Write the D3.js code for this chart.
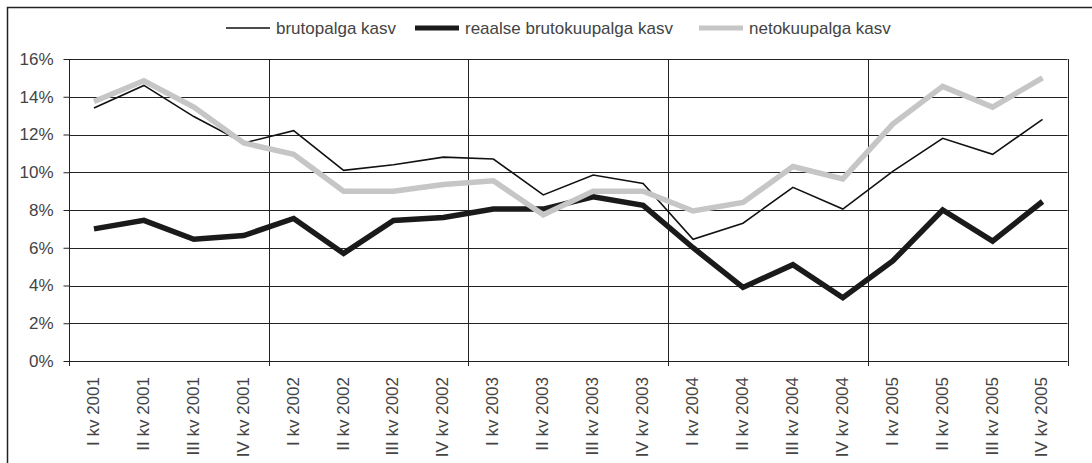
<!DOCTYPE html>
<html>
<head>
<meta charset="utf-8">
<script src="https://cdn.jsdelivr.net/npm/d3@7/dist/d3.min.js"></script>
<style>
  html, body { margin: 0; padding: 0; background: #fff; overflow: hidden; }
  text { font-family: "Liberation Sans", Arial, sans-serif; fill: #444; }
</style>
</head>
<body>
<svg id="svg"></svg>
<script>
// quarters on the x axis
var quarters = ["I kv 2001", "II kv 2001", "III kv 2001", "IV kv 2001",
                "I kv 2002", "II kv 2002", "III kv 2002", "IV kv 2002",
                "I kv 2003", "II kv 2003", "III kv 2003", "IV kv 2003",
                "I kv 2004", "II kv 2004", "III kv 2004", "IV kv 2004",
                "I kv 2005", "II kv 2005", "III kv 2005", "IV kv 2005"];

// growth rates, percent
var brutopalga = [13.4, 14.6, 12.95, 11.55, 12.2, 10.1, 10.4, 10.8, 10.7, 8.8,
                  9.85, 9.4, 6.45, 7.3, 9.2, 8.05, 10.05, 11.8, 10.95, 12.8];
var reaalne    = [7.0, 7.45, 6.45, 6.65, 7.55, 5.7, 7.45, 7.6, 8.05, 8.05,
                  8.7, 8.25, 6.0, 3.9, 5.1, 3.35, 5.3, 8.0, 6.35, 8.45];
var neto       = [13.75, 14.85, 13.45, 11.55, 10.95, 9.0, 9.0, 9.35, 9.55, 7.75,
                  9.0, 9.0, 7.95, 8.4, 10.3, 9.65, 12.55, 14.55, 13.45, 15.0];

var seriesNames = ["brutopalga kasv", "reaalse brutokuupalga kasv", "netokuupalga kasv"];
var yTicks = [0, 2, 4, 6, 8, 10, 12, 14, 16];

//////////////////////////////////////////////////////////////////////////////

var width = 1092, height = 463;
var plot = {x1: 69, x2: 1067.5, y1: 59, y2: 361};

var svg = d3.select("#svg").attr("width", width).attr("height", height);

// outer frame, runs off the page on the right and bottom like the original
svg.append("rect")
    .attr("x", 7.5).attr("y", 7.5)
    .attr("width", 1200).attr("height", 600)
    .attr("fill", "none").attr("stroke", "#222").attr("stroke-width", 1.5);

var x = d3.scaleBand()
    .domain(quarters)
    .range([plot.x1, plot.x2]);

var y = d3.scaleLinear()
    .domain([0, 16])
    .range([plot.y2, plot.y1]);

// horizontal grid
svg.append("g").selectAll("line")
    .data(yTicks)
    .enter().append("line")
    .attr("x1", plot.x1).attr("x2", plot.x2)
    .attr("y1", function(d) { return Math.round(y(d)) + 0.5; })
    .attr("y2", function(d) { return Math.round(y(d)) + 0.5; })
    .attr("stroke", "#222").attr("stroke-width", 1);

// vertical grid every 4 quarters (year boundaries)
var yearEdges = quarters.filter(function(q, i) { return i % 4 == 0 && i > 0; });
svg.append("g").selectAll("line")
    .data(yearEdges)
    .enter().append("line")
    .attr("x1", function(d) { return Math.round(x(d)) + 0.5; })
    .attr("x2", function(d) { return Math.round(x(d)) + 0.5; })
    .attr("y1", plot.y1).attr("y2", plot.y2 + 5)
    .attr("stroke", "#222").attr("stroke-width", 1);

// right edge of plot area
svg.append("line")
    .attr("x1", Math.round(plot.x2) + 0.5).attr("x2", Math.round(plot.x2) + 0.5)
    .attr("y1", plot.y1).attr("y2", plot.y2 + 5)
    .attr("stroke", "#222").attr("stroke-width", 1);

// y axis
var yAxis = d3.axisLeft(y)
    .tickValues(yTicks)
    .tickSize(6)
    .tickPadding(10)
    .tickFormat(function(d) { return d + "%"; });

var gy = svg.append("g")
    .attr("transform", "translate(" + (Math.round(plot.x1) + 0.5) + ",0)")
    .call(yAxis);
gy.select(".domain").attr("stroke", "#222").attr("d", "M0," + plot.y1 + "V" + (plot.y2 + 5));
gy.selectAll(".tick line").attr("stroke", "#222");
gy.selectAll(".tick text")
    .attr("font-size", 17).attr("fill", "#444")
    .style("font-family", "'Liberation Sans', Arial, sans-serif");

// x category labels, rotated
svg.append("g").selectAll("text")
    .data(quarters)
    .enter().append("text")
    .attr("transform", function(d) {
        return "translate(" + (x(d) + x.bandwidth() / 2 - 1) + "," + 377 + ") rotate(-90)";
    })
    .attr("text-anchor", "end")
    .attr("dy", "0.35em")
    .attr("font-size", 17)
    .text(function(d) { return d; });

// lines
var line = d3.line()
    .x(function(d, i) { return x(quarters[i]) + x.bandwidth() / 2; })
    .y(function(d) { return y(d); });

var styles = [
    {data: brutopalga, color: "#111", w: 1.6},
    {data: reaalne, color: "#1a1a1a", w: 5.5},
    {data: neto, color: "#c6c6c6", w: 5.5}
];

svg.append("g").selectAll("path")
    .data(styles)
    .enter().append("path")
    .attr("d", function(s) { return line(s.data); })
    .attr("fill", "none")
    .attr("stroke", function(s) { return s.color; })
    .attr("stroke-width", function(s) { return s.w; })
    .attr("stroke-linejoin", "miter");

// legend
var legendX = [226, 415, 699];
var leg = svg.append("g").selectAll("g")
    .data(styles)
    .enter().append("g")
    .attr("transform", function(s, i) { return "translate(" + legendX[i] + ",28)"; });

leg.append("line")
    .attr("x1", 0).attr("x2", 44)
    .attr("y1", 0).attr("y2", 0)
    .attr("stroke", function(s) { return s.color; })
    .attr("stroke-width", function(s, i) { return i == 0 ? 1.6 : 5; });

leg.append("text")
    .attr("x", 50).attr("y", 6)
    .attr("font-size", 17)
    .text(function(s, i) { return seriesNames[i]; });
</script>
</body>
</html>
